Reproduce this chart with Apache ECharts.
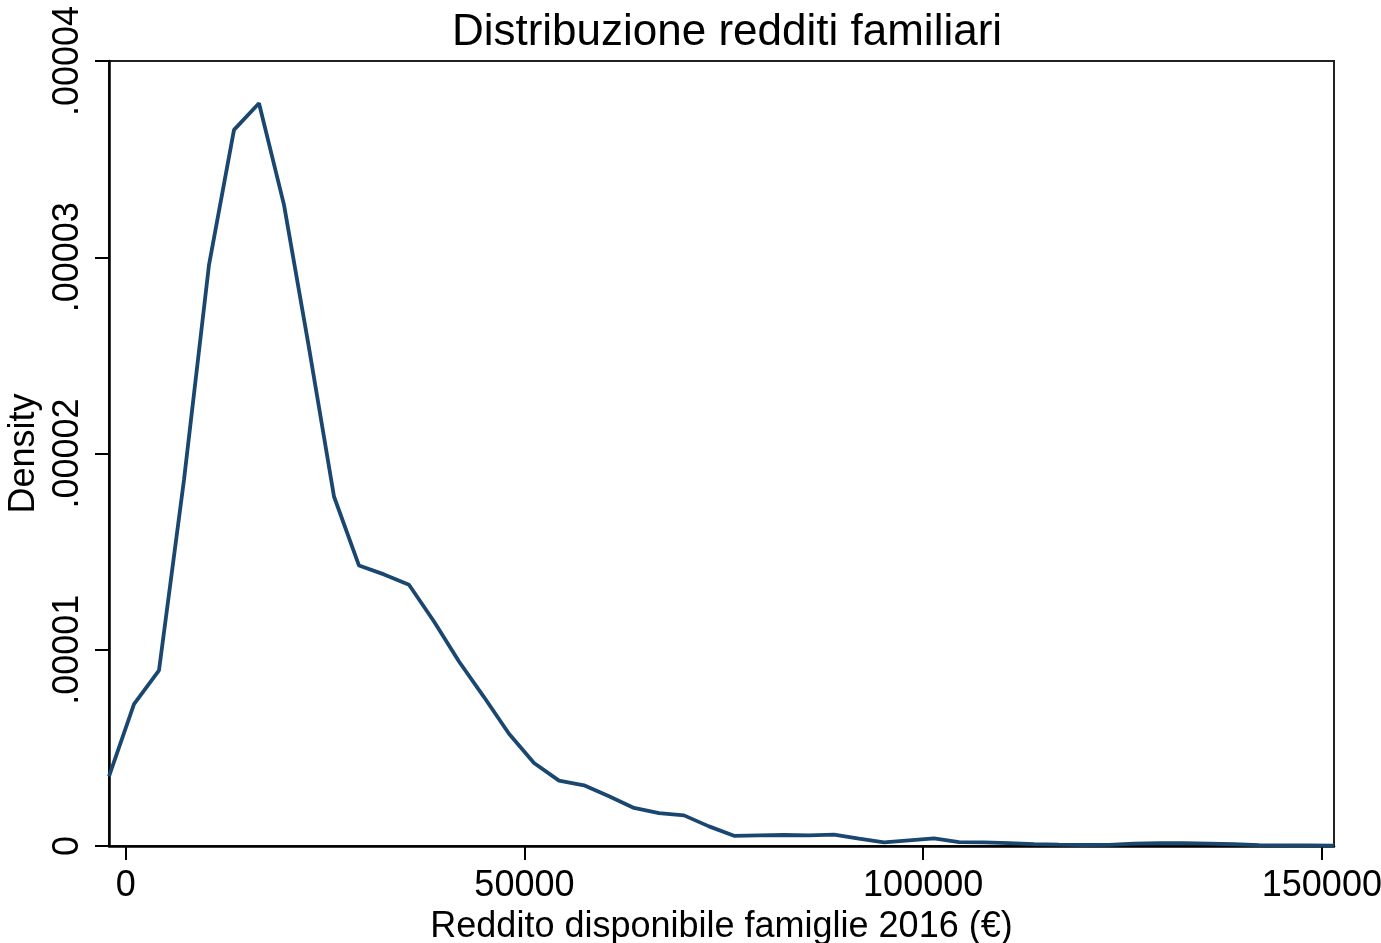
<!DOCTYPE html>
<html>
<head>
<meta charset="utf-8">
<script src="https://cdn.jsdelivr.net/npm/echarts@6/dist/echarts.min.js"></script>
<style>
  html, body { margin: 0; padding: 0; background: #ffffff; }
  #chart { width: 1381px; height: 943px; }
</style>
</head>
<body>
<div id="chart"></div>
<script>
// Kernel density of household disposable income, evaluated at 50 points
const incomePoints = [
  -2094, 1041, 4176, 7311, 10446, 13581, 16716, 19851, 22986, 26121,
  29256, 32391, 35526, 38661, 41796, 44931, 48066, 51201, 54336, 57471,
  60606, 63741, 66876, 70011, 73146, 76281, 79416, 82551, 85686, 88821,
  91956, 95091, 98226, 101361, 104496, 107631, 110766, 113901, 117036, 120171,
  123306, 126441, 129576, 132711, 135846, 138981, 142116, 145251, 148386, 151521
];
const densityValues = [
  3.55e-6, 7.23e-6, 8.95e-6, 1.866e-5, 2.961e-5, 3.649e-5, 3.785e-5, 3.267e-5, 2.538e-5, 1.781e-5,
  1.429e-5, 1.384e-5, 1.331e-5, 1.144e-5, 9.40e-6, 7.59e-6, 5.72e-6, 4.23e-6, 3.33e-6, 3.09e-6,
  2.53e-6, 1.94e-6, 1.68e-6, 1.56e-6, 1.00e-6, 5.2e-7, 5.4e-7, 5.6e-7, 5.4e-7, 5.8e-7,
  3.7e-7, 1.8e-7, 2.9e-7, 3.9e-7, 2.0e-7, 1.8e-7, 1.5e-7, 1.0e-7, 7e-8, 5e-8,
  6e-8, 1.2e-7, 1.4e-7, 1.5e-7, 1.2e-7, 9e-8, 4e-8, 3e-8, 3e-8, 2e-8
];
const xTicks = [0, 50000, 100000, 150000];
const yTicks = [0, 0.00001, 0.00002, 0.00003, 0.00004];

const chartTitle = 'Distribuzione redditi familiari';
const xName = 'Reddito disponibile famiglie 2016 (€)';
const yName = 'Density';

const FONT = '"Liberation Sans", Arial, sans-serif';

function fmtY(v) {
  if (Math.abs(v) < 1e-12) return '0';
  return v.toFixed(5).replace(/^0/, '');
}

const chart = echarts.init(document.getElementById('chart'), null, { renderer: 'canvas' });
chart.setOption({
  animation: false,
  backgroundColor: '#ffffff',
  title: {
    text: chartTitle,
    left: 722,
    textAlign: 'center',
    top: 6,
    textStyle: { fontFamily: FONT, fontSize: 44, fontWeight: 'normal', color: '#000000' }
  },
  grid: {
    left: 109, right: 47, top: 61, bottom: 97,
    outerBoundsMode: 'none',
    containLabel: false,
    show: true, borderColor: '#222222', borderWidth: 2, backgroundColor: '#ffffff'
  },
  xAxis: {
    type: 'value',
    min: incomePoints[0],
    max: incomePoints[incomePoints.length - 1],
    name: xName,
    nameLocation: 'middle',
    nameGap: 58,
    nameTextStyle: { fontFamily: FONT, fontSize: 36, color: '#000000' },
    axisLine: { show: true, onZero: false, lineStyle: { color: '#000000', width: 2.5 } },
    axisTick: { show: true, length: 14, customValues: xTicks, lineStyle: { color: '#000000', width: 2 } },
    axisLabel: {
      customValues: xTicks, margin: 22,
      fontFamily: FONT, fontSize: 36, color: '#000000',
      formatter: v => String(v)
    },
    splitLine: { show: false }
  },
  yAxis: {
    type: 'value',
    min: 0,
    max: 0.00004,
    interval: 0.00001,
    name: yName,
    nameLocation: 'middle',
    nameRotate: 90,
    nameGap: 53,
    nameTextStyle: { fontFamily: FONT, fontSize: 36, color: '#000000' },
    axisLine: { show: true, onZero: false, lineStyle: { color: '#000000', width: 2.5 } },
    axisTick: { show: true, length: 14, customValues: yTicks, lineStyle: { color: '#000000', width: 2 } },
    axisLabel: {
      customValues: yTicks, rotate: 90, margin: 23,
      fontFamily: FONT, fontSize: 36, color: '#000000',
      formatter: fmtY
    },
    splitLine: { show: false }
  },
  series: [{
    type: 'line',
    data: incomePoints.map((x, i) => [x, densityValues[i]]),
    showSymbol: false,
    smooth: false,
    lineStyle: { color: '#1a476f', width: 3.8 },
    clip: true
  }]
});
</script>
</body>
</html>
